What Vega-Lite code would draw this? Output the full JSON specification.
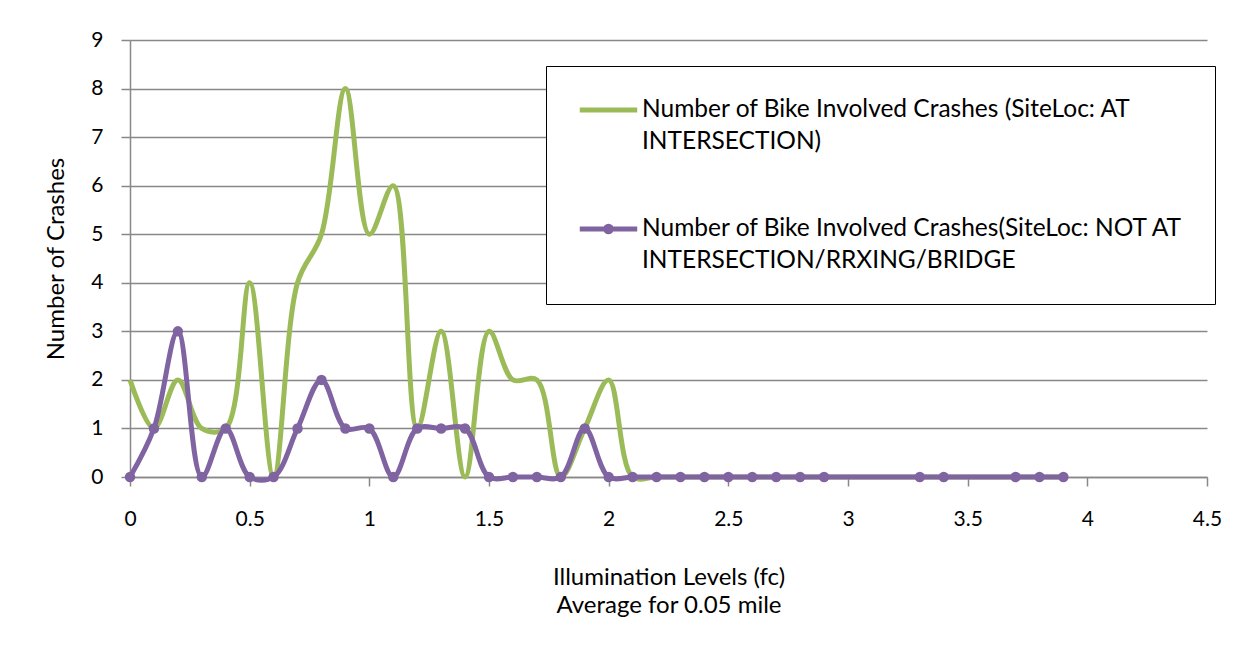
{
  "$schema": "https://vega.github.io/schema/vega-lite/v6.json",
  "autosize": {"type": "none"},
  "width": 1077,
  "height": 437,
  "padding": {"left": 130, "top": 40, "right": 38, "bottom": 173},
  "background": "white",
  "config": {
    "view": {"stroke": null},
    "font": "Lato",
    "axis": {"labelFont": "Lato", "titleFont": "Lato", "labelFontSize": 21, "titleFontSize": 24, "titleFontWeight": "normal", "labelColor": "black", "titleColor": "black", "domainColor": "#888", "tickColor": "#888", "gridColor": "#888", "domainWidth": 1.5, "tickWidth": 1.5, "gridWidth": 1.5}
  },
  "datasets": {
    "crashes": [
      {"x": 0, "s": "A", "y": 2}, {"x": 0.1, "s": "A", "y": 1}, {"x": 0.2, "s": "A", "y": 2}, {"x": 0.3, "s": "A", "y": 1}, {"x": 0.4, "s": "A", "y": 1},
      {"x": 0.5, "s": "A", "y": 4}, {"x": 0.6, "s": "A", "y": 0}, {"x": 0.7, "s": "A", "y": 4}, {"x": 0.8, "s": "A", "y": 5}, {"x": 0.9, "s": "A", "y": 8},
      {"x": 1.0, "s": "A", "y": 5}, {"x": 1.1, "s": "A", "y": 6}, {"x": 1.2, "s": "A", "y": 1}, {"x": 1.3, "s": "A", "y": 3}, {"x": 1.4, "s": "A", "y": 0},
      {"x": 1.5, "s": "A", "y": 3}, {"x": 1.6, "s": "A", "y": 2}, {"x": 1.7, "s": "A", "y": 2}, {"x": 1.8, "s": "A", "y": 0}, {"x": 1.9, "s": "A", "y": 1},
      {"x": 2.0, "s": "A", "y": 2}, {"x": 2.1, "s": "A", "y": 0}, {"x": 2.2, "s": "A", "y": 0}, {"x": 2.3, "s": "A", "y": 0}, {"x": 2.4, "s": "A", "y": 0},
      {"x": 2.5, "s": "A", "y": 0}, {"x": 2.6, "s": "A", "y": 0}, {"x": 2.7, "s": "A", "y": 0}, {"x": 2.8, "s": "A", "y": 0}, {"x": 2.9, "s": "A", "y": 0},
      {"x": 3.3, "s": "A", "y": 0}, {"x": 3.4, "s": "A", "y": 0}, {"x": 3.7, "s": "A", "y": 0}, {"x": 3.8, "s": "A", "y": 0}, {"x": 3.9, "s": "A", "y": 0},
      {"x": 0, "s": "B", "y": 0}, {"x": 0.1, "s": "B", "y": 1}, {"x": 0.2, "s": "B", "y": 3}, {"x": 0.3, "s": "B", "y": 0}, {"x": 0.4, "s": "B", "y": 1},
      {"x": 0.5, "s": "B", "y": 0}, {"x": 0.6, "s": "B", "y": 0}, {"x": 0.7, "s": "B", "y": 1}, {"x": 0.8, "s": "B", "y": 2}, {"x": 0.9, "s": "B", "y": 1},
      {"x": 1.0, "s": "B", "y": 1}, {"x": 1.1, "s": "B", "y": 0}, {"x": 1.2, "s": "B", "y": 1}, {"x": 1.3, "s": "B", "y": 1}, {"x": 1.4, "s": "B", "y": 1},
      {"x": 1.5, "s": "B", "y": 0}, {"x": 1.6, "s": "B", "y": 0}, {"x": 1.7, "s": "B", "y": 0}, {"x": 1.8, "s": "B", "y": 0}, {"x": 1.9, "s": "B", "y": 1},
      {"x": 2.0, "s": "B", "y": 0}, {"x": 2.1, "s": "B", "y": 0}, {"x": 2.2, "s": "B", "y": 0}, {"x": 2.3, "s": "B", "y": 0}, {"x": 2.4, "s": "B", "y": 0},
      {"x": 2.5, "s": "B", "y": 0}, {"x": 2.6, "s": "B", "y": 0}, {"x": 2.7, "s": "B", "y": 0}, {"x": 2.8, "s": "B", "y": 0}, {"x": 2.9, "s": "B", "y": 0},
      {"x": 3.3, "s": "B", "y": 0}, {"x": 3.4, "s": "B", "y": 0}, {"x": 3.7, "s": "B", "y": 0}, {"x": 3.8, "s": "B", "y": 0}, {"x": 3.9, "s": "B", "y": 0}
    ]
  },
  "data": {"name": "crashes"},
  "encoding": {
    "x": {"field": "x", "type": "quantitative", "scale": {"domain": [0, 4.5], "nice": false, "zero": false},
      "axis": {"values": [0, 0.5, 1, 1.5, 2, 2.5, 3, 3.5, 4, 4.5], "format": "~f", "labelFlush": false, "grid": false, "tickSize": 9, "labelPadding": 22,
        "title": ["Illumination Levels (fc)", "Average for 0.05 mile"], "titlePadding": 36, "titleLineHeight": 28}},
    "y": {"field": "y", "type": "quantitative", "scale": {"domain": [0, 9], "nice": false},
      "axis": {"values": [0, 1, 2, 3, 4, 5, 6, 7, 8, 9], "labelFlush": false, "grid": true, "tickSize": 9, "labelPadding": 18, "domain": true, "title": "Number of Crashes", "titlePadding": 22}}
  },
  "layer": [
    {
      "mark": {"type": "line", "interpolate": "catmull-rom", "strokeWidth": 5},
      "encoding": {
        "color": {"field": "s", "type": "nominal",
          "scale": {"domain": ["A", "B"], "range": ["#9BBB59", "#8064A2"]},
          "legend": {"orient": "none", "legendX": 416, "legendY": 26, "title": null,
            "symbolType": "stroke", "symbolSize": 3300, "symbolStrokeWidth": 5,
            "labelFont": "Lato", "labelFontSize": 24.5, "labelColor": "black", "labelLimit": 800,
            "labelExpr": "datum.value == 'A' ? ['Number of Bike Involved Crashes (SiteLoc: AT', 'INTERSECTION)'] : ['Number of Bike Involved Crashes(SiteLoc: NOT AT', 'INTERSECTION/RRXING/BRIDGE']",
            "labelOffset": 2, "rowPadding": 62, "padding": 31, "strokeColor": "black", "fillColor": "white", "labelBaseline": "middle",
            "encode": {
              "labels": {"update": {"y": {"value": 13}, "lineHeight": {"value": 32}}},
              "symbols": {"update": {"y": {"value": 13}, "shape": {"signal": "datum.value == 'B' ? 'M-1,0L1,0M-0.1,0a0.1,0.1 0 1,0 0.2,0a0.1,0.1 0 1,0 -0.2,0' : 'stroke'"}}}
            }}
        }
      }
    },
    {
      "transform": [{"filter": "datum.s == 'B'"}],
      "mark": {"type": "point", "filled": true, "opacity": 1, "size": 110, "color": "#8064A2"}
    }
  ]
}
